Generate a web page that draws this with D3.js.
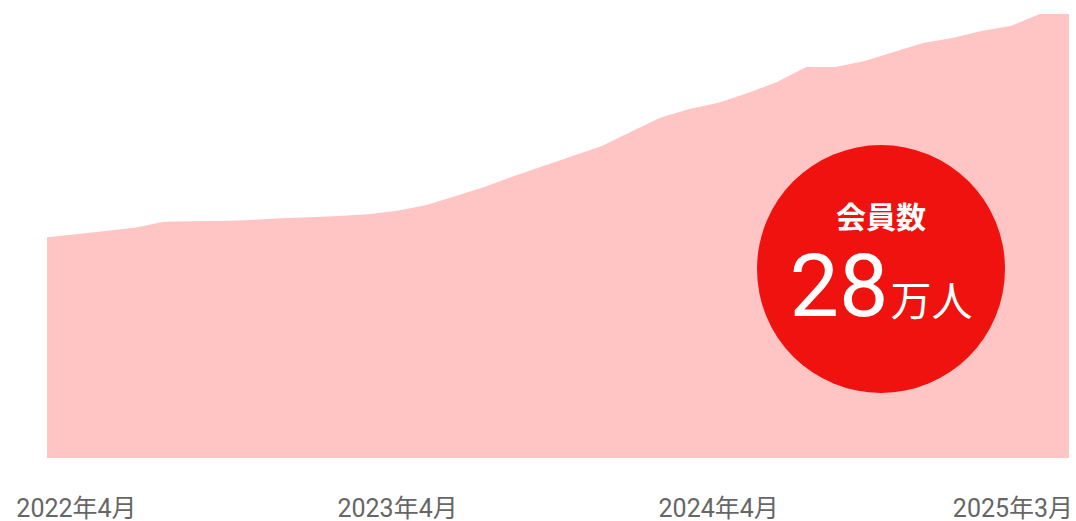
<!DOCTYPE html>
<html>
<head>
<meta charset="utf-8">
<script src="https://cdn.jsdelivr.net/npm/d3@7"></script>
<style>
    html, body { margin: 0; padding: 0; background: #fff; }
    #chart { display: block; }
</style>
</head>
<body>
<svg id="chart" width="1076" height="521"></svg>
<script>
// months shown on the chart (one point per month)
var months = [
    "2022-04", "2022-05", "2022-06", "2022-07", "2022-08", "2022-09",
    "2022-10", "2022-11", "2022-12", "2023-01", "2023-02", "2023-03",
    "2023-04", "2023-05", "2023-06", "2023-07", "2023-08", "2023-09",
    "2023-10", "2023-11", "2023-12", "2024-01", "2024-02", "2024-03",
    "2024-04", "2024-05", "2024-06", "2024-07", "2024-08", "2024-09",
    "2024-10", "2024-11", "2024-12", "2025-01", "2025-02", "2025-03"
];

// members, in 万人
var members = [
    13.92, 14.11, 14.32, 14.52, 14.90, 14.93,
    14.95, 15.01, 15.12, 15.18, 15.26, 15.37,
    15.60, 15.96, 16.52, 17.11, 17.78, 18.41,
    19.05, 19.68, 20.58, 21.46, 22.01, 22.41,
    23.02, 23.71, 24.66, 24.66, 25.04, 25.60,
    26.17, 26.49, 26.93, 27.24, 28.00, 28.00
];

var tickMonths = ["2022-04", "2023-04", "2024-04", "2025-03"];
var tickLabels = ["2022年4月", "2023年4月", "2024年4月", "2025年3月"];

var badgeTitle = "会員数";
var badgeValue = "28";
var badgeUnit = "万人";

var svg = d3.select("#chart");
var width = 1076;
var baseY = 458;
var topY = 14;

var x = d3.scalePoint().domain(months).range([47, 1069]);
var y = d3.scaleLinear().domain([0, 28]).range([baseY, topY]);

// labels sit a little inside the plot ends
var labelX = d3.scalePoint().domain(months).range([76.5, 1013]);

var area = d3.area()
    .x(function(d, i) { return x(months[i]); })
    .y0(baseY)
    .y1(function(d) { return y(d); });

svg.append("path")
    .datum(members)
    .attr("d", area)
    .attr("fill", "#ffc4c4");

// month labels under the area
svg.append("g")
    .selectAll("text")
    .data(tickMonths)
    .enter()
    .append("text")
    .attr("x", function(d) { return labelX(d); })
    .attr("y", 517)
    .attr("text-anchor", "middle")
    .attr("font-family", "Roboto, 'Noto Sans CJK JP', sans-serif")
    .attr("font-size", 25)
    .attr("fill", "#666666")
    .text(function(d, i) { return tickLabels[i]; });

// red badge
var badge = svg.append("g").attr("transform", "translate(881,269)");

badge.append("circle")
    .attr("r", 124)
    .attr("fill", "#ef120e");

badge.append("text")
    .attr("y", -41)
    .attr("text-anchor", "middle")
    .attr("font-family", "'Noto Sans CJK JP', sans-serif")
    .attr("font-weight", 700)
    .attr("font-size", 30)
    .attr("fill", "#fff")
    .text(badgeTitle);

var big = badge.append("text")
    .attr("y", 47)
    .attr("text-anchor", "middle")
    .attr("fill", "#fff");

big.append("tspan")
    .attr("font-family", "Roboto, sans-serif")
    .attr("font-size", 88)
    .text(badgeValue);

big.append("tspan")
    .attr("font-family", "'Noto Sans CJK JP', sans-serif")
    .attr("font-size", 41)
    .attr("dx", 2)
    .text(badgeUnit);
</script>
</body>
</html>
